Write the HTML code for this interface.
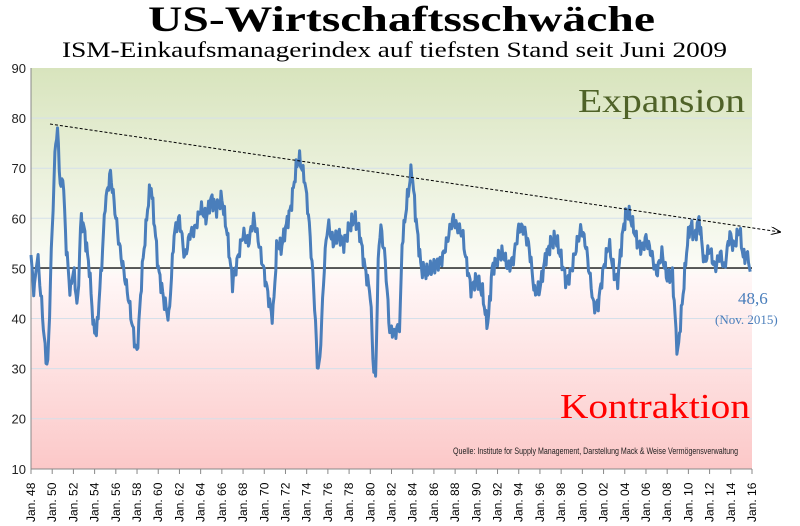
<!DOCTYPE html>
<html><head><meta charset="utf-8"><style>
body{margin:0;background:#fff;width:800px;height:526px;overflow:hidden}
svg{display:block}
</style></head><body>
<svg id="s" width="800" height="526" xmlns="http://www.w3.org/2000/svg">
<defs>
<linearGradient id="bg" x1="0" y1="0" x2="0" y2="1">
<stop offset="0" stop-color="#d8e4bd"/>
<stop offset="0.5" stop-color="#fbfcf7"/>
<stop offset="0.52" stop-color="#fff7f7"/>
<stop offset="1" stop-color="#fcc8c8"/>
</linearGradient>
<marker id="ar" markerWidth="10" markerHeight="8" refX="9" refY="4" orient="auto" markerUnits="userSpaceOnUse">
<path d="M0,0 L10,4 L0,8" fill="none" stroke="#000" stroke-width="1"/>
</marker>
</defs>
<text x="148" y="31" textLength="507" lengthAdjust="spacingAndGlyphs" font-family="Liberation Serif,serif" font-weight="bold" font-size="36">US-Wirtschaftsschwäche</text>
<text x="62" y="57" textLength="665" lengthAdjust="spacingAndGlyphs" font-family="Liberation Serif,serif" font-size="22">ISM-Einkaufsmanagerindex  auf tiefsten Stand seit Juni 2009</text>
<rect x="31" y="68" width="721" height="401" fill="url(#bg)"/>
<g id="grid" stroke="#d5e0ea" stroke-width="1"></g>
<g id="yl" font-family="Liberation Sans,sans-serif" font-size="13" text-anchor="end" fill="#222"></g>
<line x1="31" y1="68" x2="31" y2="469" stroke="#888"/>
<line x1="31" y1="469" x2="752" y2="469" stroke="#888"/>
<g id="xt" stroke="#888"></g>
<g id="xl" font-family="Liberation Sans,sans-serif" font-size="12" fill="#000"></g>
<text x="578" y="112" textLength="167" lengthAdjust="spacingAndGlyphs" font-family="Liberation Serif,serif" font-size="34" fill="#4f6228">Expansion</text>
<text x="560" y="418" textLength="190" lengthAdjust="spacingAndGlyphs" font-family="Liberation Serif,serif" font-size="35" fill="#ff0000">Kontraktion</text>
<text x="453" y="454" textLength="285" lengthAdjust="spacingAndGlyphs" font-family="Liberation Sans,sans-serif" font-size="9" fill="#222">Quelle: Institute for Supply Management, Darstellung Mack &amp; Weise Vermögensverwaltung</text>
<line x1="31" y1="268" x2="752" y2="268" stroke="#000" stroke-width="1.2"/>
<polyline id="d" fill="none" stroke="#4a7ebb" stroke-width="3" stroke-linejoin="round"/>
<line x1="50" y1="124" x2="780" y2="232" stroke="#000" stroke-width="1" stroke-dasharray="3,2" marker-end="url(#ar)"/>
<text x="738" y="304" font-family="Liberation Serif,serif" font-size="17" fill="#4a7ebb">48,6</text>
<text x="715" y="324" font-family="Liberation Serif,serif" font-size="13" fill="#4a7ebb">(Nov. 2015)</text>
</svg>
<script>
var N="http://www.w3.org/2000/svg";
function el(p,t,a,txt){var e=document.createElementNS(N,t);for(var k in a)e.setAttribute(k,a[k]);if(txt)e.textContent=txt;document.getElementById(p).appendChild(e);}
function Y(v){return 68+(90-v)*5.01;}
for(var v=10;v<=90;v+=10){if(v<90&&v>10)el("grid","line",{x1:31,x2:752,y1:Y(v),y2:Y(v)});el("yl","text",{x:26,y:Y(v)+5},String(v));}
var X0=31,XW=721/68;
for(var i=0;i<=34;i++){var x=X0+i*2*XW;el("xt","line",{x1:x,x2:x,y1:469,y2:474});
var yr=(48+2*i)%100;var s="Jan. "+(yr<10?"0":"")+yr;
el("xl","text",{x:0,y:0,transform:"translate("+(x+4)+",522) rotate(-90)"},s);}
var k=[[48,52],[48.3,45],[48.6,53],[49,43],[49.4,32],[49.6,31],[49.9,52],[50.3,75],[50.5,77.5],[50.8,65],[51,69],[51.3,55],[51.7,45],[52,50],[52.4,42],[52.7,60],[53,58],[53.5,50],[53.9,38],[54.2,37],[54.7,52],[55,63],[55.5,69],[55.9,62],[56.3,55],[56.7,50],[57.2,44],[57.8,35],[58,33],[58.5,50],[59,62],[59.3,67],[59.6,60],[60,50],[60.5,44],[61,40],[61.5,57],[62,60],[62.5,52],[63,57],[63.5,58],[64,62],[64.5,60],[65,64],[65.5,62],[66,64],[66.5,57],[67,47],[67.5,52],[68,57],[68.5,55],[69,60],[69.5,55],[70,49],[70.5,43],[70.8,40],[71.2,55],[71.6,54],[72,58],[72.5,62],[73,70],[73.3,72],[73.8,68],[74.2,60],[74.7,45],[75,31],[75.2,30],[75.7,52],[76,59],[76.5,55],[77,57],[77.5,55],[78,58],[78.5,60],[79,57],[79.5,50],[80,45],[80.3,30],[80.5,29],[80.8,55],[81,58],[81.4,52],[81.8,38],[82.3,37],[82.8,39],[83,55],[83.5,64],[83.9,70],[84.3,60],[84.8,50],[85.3,49],[85.8,50],[86.3,51],[86.8,52],[87.3,56],[87.8,60],[88.2,58],[88.7,57],[89,52],[89.5,46],[90,48],[90.6,45],[90.9,40],[91.1,39],[91.5,50],[92,52],[92.5,53],[93,50],[93.5,52],[94,58],[94.5,58],[95,54],[95.5,45],[96,46],[96.5,52],[97,55],[97.5,56],[98,52],[98.5,47],[99,50],[99.5,55],[99.9,58],[100.3,55],[100.8,47],[101.1,42],[101.5,43],[102,50],[102.5,55],[103,49],[103.3,47],[103.8,57],[104.2,62],[104.7,59],[105.2,55],[105.6,54],[106,56],[106.5,53],[107,49],[107.5,53],[108,48],[108.5,49],[108.9,35],[109,33],[109.5,45],[109.9,55],[110.2,59],[110.6,56],[111,60],[111.5,51],[112,54],[112.5,50],[113,53],[113.4,50],[113.9,57],[114.3,54],[114.8,58],[115.2,52],[115.5,53],[115.9,48.6]];
var pts=[],j=0;
for(var m=0;m<815;m++){var t=48+m/12;while(j<k.length-2&&k[j+1][0]<t)j++;
var a=k[j],b=k[j+1];var f=Math.max(0,Math.min(1,(t-a[0])/(b[0]-a[0])));var v=a[1]+(b[1]-a[1])*f;
if(m<812)v+=1.1*Math.sin(m*1.7)+0.8*Math.sin(m*3.1+1);
pts.push((X0+(t-48)*XW).toFixed(1)+","+Y(v).toFixed(1));}
document.getElementById("d").setAttribute("points",pts.join(" "));
</script>
</body></html>
